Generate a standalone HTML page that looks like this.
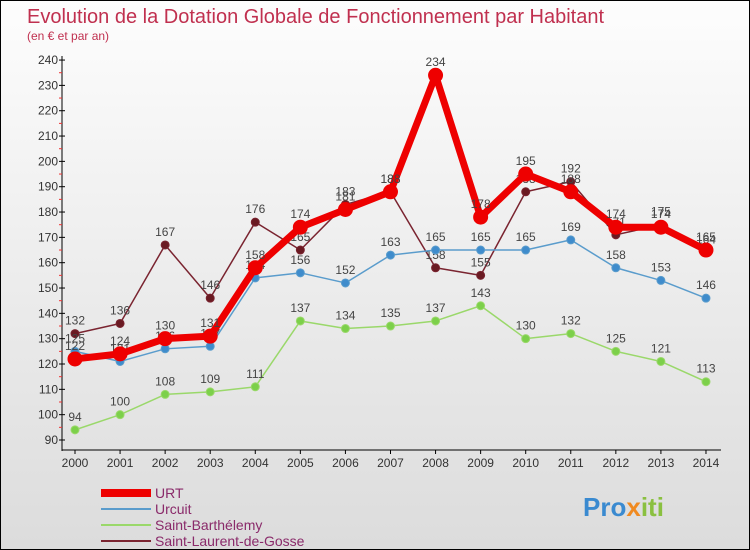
<!DOCTYPE html>
<html><head><meta charset="utf-8"><style>
body{margin:0;}
#c{width:748px;height:548px;border:1px solid #000;position:relative;background:linear-gradient(#fdfdfd,#dcdcdc);font-family:"Liberation Sans",sans-serif;overflow:hidden}
</style></head><body>
<div id="c">
<svg id="s" width="748" height="548"></svg>
</div>
<script>
const years=[2000,2001,2002,2003,2004,2005,2006,2007,2008,2009,2010,2011,2012,2013,2014];
const urt=[122,124,130,131,158,174,181,188,234,178,195,188,174,174,165];
const urcuit=[125,121,126,127,154,156,152,163,165,165,165,169,158,153,146];
const stBarth=[94,100,108,109,111,137,134,135,137,143,130,132,125,121,113];
const stLaurent=[132,136,167,146,176,165,183,188,158,155,188,192,171,175,164];
const yTicks=[90,100,110,120,130,140,150,160,170,180,190,200,210,220,230,240];
const NS="http://www.w3.org/2000/svg";
const s=document.getElementById('s');
function X(i){return 74+i*45.07;}
function Y(v){return 439-(v-90)*2.533;}
function el(t,a,p){const e=document.createElementNS(NS,t);for(const k in a)e.setAttribute(k,a[k]);(p||s).appendChild(e);return e;}
let t=el('text',{x:26,y:22,'font-size':20,fill:'#c0304f'});t.textContent='Evolution de la Dotation Globale de Fonctionnement par Habitant';

t=el('text',{x:26,y:39,'font-size':12,fill:'#c0304f'});t.textContent='(en € et par an)';

// axes
let a=el('line',{x1:61,y1:55,x2:61,y2:450,stroke:'#000'});
a=el('line',{x1:61,y1:449,x2:720,y2:449,stroke:'#000'});
yTicks.forEach(v=>{el('line',{x1:58,y1:Y(v),x2:64,y2:Y(v),stroke:'#000'});
 if(v<240)el('line',{x1:58,y1:Y(v+5),x2:61,y2:Y(v+5),stroke:'#e33'});
 const l=el('text',{x:57,y:Y(v)+4,'font-size':12,'text-anchor':'end',fill:'#333'});l.textContent=v;
 });
years.forEach((y,i)=>{el('line',{x1:X(i),y1:449,x2:X(i),y2:453,stroke:'#000'});
 const l=el('text',{x:X(i),y:466,'font-size':12,'text-anchor':'middle',fill:'#333'});l.textContent=y;
 });
function series(d,col,w,r,name,dot){
 const g=el('g',{});
 el('polyline',{points:d.map((v,i)=>X(i)+','+Y(v)).join(' '),fill:'none',stroke:col,'stroke-width':w,'stroke-linejoin':'round'},g);
 d.forEach((v,i)=>{const c=el('circle',{cx:X(i),cy:Y(v),r:r,fill:dot,stroke:col,'stroke-width':1},g);
  
  const l=el('text',{x:X(i),y:Y(v)-9,'font-size':12,'text-anchor':'middle',fill:'#444'},g);l.textContent=v;
  });
}
series(stLaurent,'#7a2430',1.5,4,'saint-laurent-series','#6a1a22');
series(stBarth,'#9ad86a',1.5,4,'saint-barthelemy-series','#7cd04a');
series(urcuit,'#5a9ccc',1.5,4,'urcuit-series','#3f8ccc');
series(urt,'#ee0000',7,7,'urt-series','#ee0000');
const leg=[['URT','#ee0000',8],['Urcuit','#5a9ccc',2],['Saint-Barthélemy','#9ad86a',2],['Saint-Laurent-de-Gosse','#7a2430',2]];
leg.forEach((L,i)=>{const y=492+i*16;const g=el('g',{});
 el('line',{x1:100,y1:y,x2:150,y2:y,stroke:L[1],'stroke-width':L[2]},g);
 const l=el('text',{x:154,y:y+5,'font-size':14,fill:'#8a2a6a'},g);l.textContent=L[0];});
const lg=el('text',{x:582,y:515,'font-size':26,'font-weight':'bold',fill:'#3a8ad0'});
lg.innerHTML='Pro<tspan fill="#f08a20">x</tspan><tspan fill="#8ac040">iti</tspan>';
</script>
</body></html>
